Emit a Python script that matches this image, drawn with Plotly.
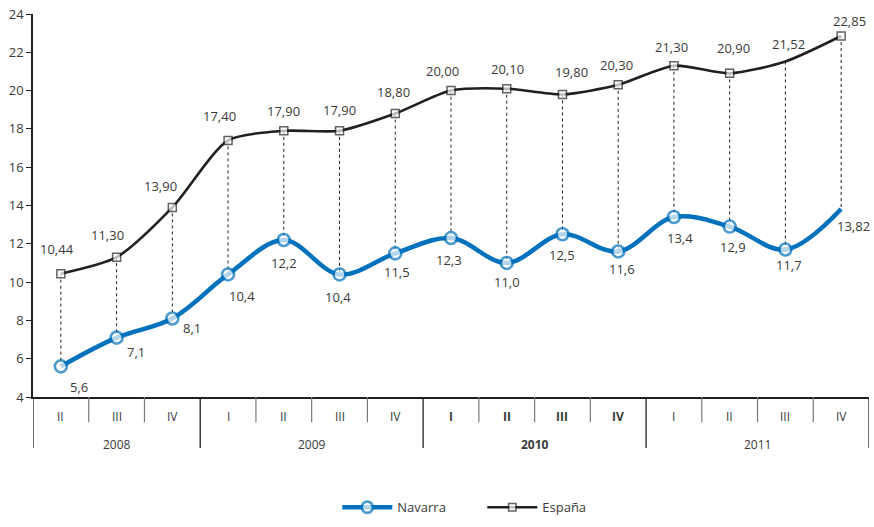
import plotly.graph_objects as go

# Quarterly series, 2008 II - 2011 IV
quarters = ["II", "III", "IV", "I", "II", "III", "IV", "I", "II", "III", "IV", "I", "II", "III", "IV"]
years = ["2008", "2009", "2010", "2011"]
quarters_per_year = [3, 4, 4, 4]
navarra = [5.6, 7.1, 8.1, 10.4, 12.2, 10.4, 11.5, 12.3, 11.0, 12.5, 11.6, 13.4, 12.9, 11.7, 13.82]
espana = [10.44, 11.30, 13.90, 17.40, 17.90, 17.90, 18.80, 20.00, 20.10, 19.80, 20.30, 21.30, 20.90, 21.52, 22.85]
navarra_decimals = [1] * 14 + [2]
espana_decimals = [2] * 15
bold_year = "2010"

BLUE = "#0071bc"
BLACK = "#231f20"
TEXT = "#3a3a3a"
FONT = "Open Sans"

x = list(range(len(quarters)))


def fmt(v, d):
    return f"{v:.{d}f}".replace(".", ",")


fig = go.Figure()

# dotted connectors between the two series at each quarter
dx, dy = [], []
for i in x:
    dx += [i, i, None]
    dy += [espana[i], navarra[i], None]
fig.add_trace(go.Scatter(
    x=dx, y=dy, mode="lines", showlegend=False, hoverinfo="skip",
    line=dict(color=BLACK, width=1, dash="dot"),
))

nav_sizes = [12] * (len(x) - 1) + [0]
fig.add_trace(go.Scatter(
    x=x, y=navarra, name="Navarra", mode="lines+markers",
    line=dict(color=BLUE, width=4.5, shape="spline", smoothing=1),
    marker=dict(symbol="circle", size=nav_sizes, color="#ffffff",
                line=dict(color=BLUE, width=2.6)),
))

esp_sizes = [8] * len(x)
esp_sizes[13] = 0
fig.add_trace(go.Scatter(
    x=x, y=espana, name="España", mode="lines+markers",
    line=dict(color=BLACK, width=2.6, shape="spline", smoothing=0.7),
    marker=dict(symbol="square", size=esp_sizes, color="#ffffff",
                line=dict(color=BLACK, width=1.5)),
))

annotations = []
# value labels
nav_dx = [18, 19, 20, 14, 0, -2, 2, -2, 0, 0, 4, 6, 3, 4, 12]
nav_dy = [-21, -14, -10, -22, -23, -23, -19, -22, -19, -21, -18, -21, -20, -15, -17]
esp_dx = [-4, -9, -12, -9, 0, 0, -2, -9, 1, 9, -2, -2, 4, 3, 8]
esp_dy = [25, 22, 21, 24, 20, 21, 22, 20, 20, 22, 20, 19, 25, 17, 15]
for i in x:
    annotations.append(dict(
        x=i, y=navarra[i], xref="x", yref="y", text=fmt(navarra[i], navarra_decimals[i]),
        showarrow=False, xshift=nav_dx[i], yshift=nav_dy[i],
        font=dict(family=FONT, size=13, color=TEXT),
    ))
    annotations.append(dict(
        x=i, y=espana[i], xref="x", yref="y", text=fmt(espana[i], espana_decimals[i]),
        showarrow=False, xshift=esp_dx[i], yshift=esp_dy[i],
        font=dict(family=FONT, size=13, color=TEXT),
    ))

# two-level category axis: quarters and years
shapes = []
qi = 0
boundaries = [-0.5]
for yr, n in zip(years, quarters_per_year):
    bold = yr == bold_year
    for k in range(n):
        q = quarters[qi]
        annotations.append(dict(
            x=qi, y=-0.052, xref="x", yref="paper", showarrow=False,
            text=f"<b>{q}</b>" if bold else q, yanchor="middle",
            font=dict(family=FONT, size=12, color=TEXT),
        ))
        if k < n - 1:
            shapes.append(dict(type="line", xref="x", yref="paper",
                               x0=qi + 0.5, x1=qi + 0.5, y0=0, y1=-0.066,
                               line=dict(color="#7a7a7a", width=1.2)))
        qi += 1
    mid = (boundaries[-1] + qi - 0.5) / 2
    annotations.append(dict(
        x=mid, y=-0.123, xref="x", yref="paper", showarrow=False,
        text=f"<b>{yr}</b>" if bold else yr, yanchor="middle",
        font=dict(family=FONT, size=12, color=TEXT),
    ))
    boundaries.append(qi - 0.5)
for b in boundaries:
    shapes.append(dict(type="line", xref="x", yref="paper",
                       x0=b, x1=b, y0=0, y1=-0.133,
                       line=dict(color=BLACK, width=1.3)))

fig.update_layout(
    width=874, height=527,
    margin=dict(l=33, r=5, t=11, b=124),
    paper_bgcolor="white", plot_bgcolor="white",
    showlegend=True,
    legend=dict(orientation="h", x=0.364, xanchor="left", y=-0.288, yanchor="middle",
                font=dict(family=FONT, size=13, color=TEXT), itemwidth=50,
                entrywidth=80, entrywidthmode="pixels", traceorder="normal"),
    annotations=annotations,
    shapes=shapes,
    xaxis=dict(range=[-0.5, len(x) - 0.5], showgrid=False, zeroline=False,
               showticklabels=False, showline=True, linecolor=BLACK, linewidth=1.5,
               ticks=""),
    yaxis=dict(range=[4, 24], dtick=2, tick0=4, showgrid=False, zeroline=False,
               showline=True, linecolor=BLACK, linewidth=1.5,
               ticks="outside", ticklen=5, tickcolor=BLACK, tickwidth=1.2,
               tickfont=dict(family=FONT, size=13, color=TEXT)),
    font=dict(family=FONT),
)

fig.write_html("out.html")
